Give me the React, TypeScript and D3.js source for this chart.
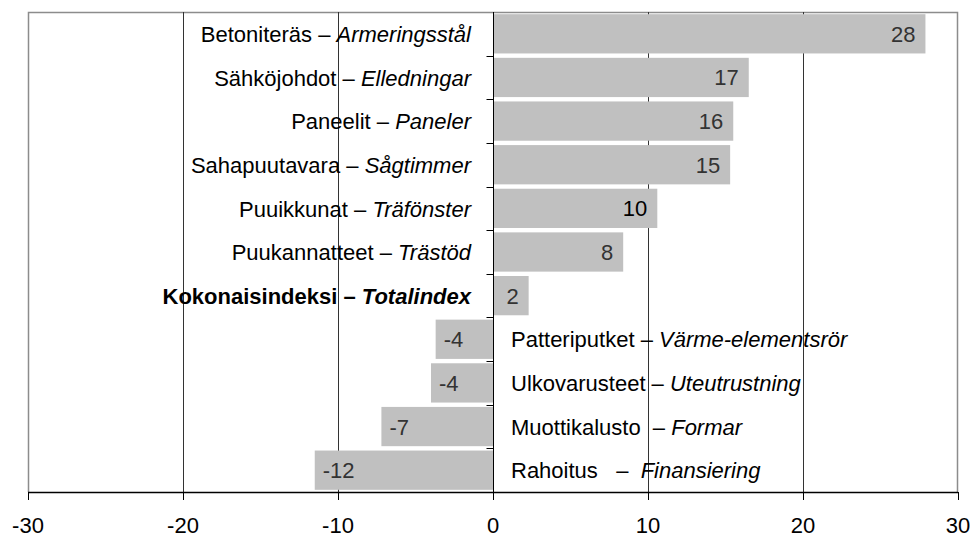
import React, { useEffect, useRef } from 'react'
import * as d3 from 'd3'

// Finnish name / Swedish name, top to bottom
const finnish = [
  'Betoniteräs',
  'Sähköjohdot',
  'Paneelit',
  'Sahapuutavara',
  'Puuikkunat',
  'Puukannatteet',
  'Kokonaisindeksi',
  'Patteriputket',
  'Ulkovarusteet',
  'Muottikalusto ',
  'Rahoitus  ',
]
const swedish = [
  'Armeringsstål',
  'Elledningar',
  'Paneler',
  'Sågtimmer',
  'Träfönster',
  'Trästöd',
  'Totalindex',
  'Värme-elementsrör',
  'Uteutrustning',
  'Formar',
  ' Finansiering',
]
const values = [27.9, 16.5, 15.5, 15.3, 10.6, 8.4, 2.3, -3.7, -4.0, -7.2, -11.5]
const valueLabels = ['28', '17', '16', '15', '10', '8', '2', '-4', '-4', '-7', '-12']
const xTicks = [-30, -20, -10, 0, 10, 20, 30]
const totalIndex = 6

const W = 973
const H = 538
const FONT = 'Arial, "Liberation Sans", sans-serif'

const App = () => {
  const svgRef = useRef<SVGSVGElement>(null)

  useEffect(() => {
    const svg = d3.select(svgRef.current)
    svg.selectAll('*').remove()

    const x = d3.scaleLinear([-30, 30], [28, 958])
    const y = d3.scaleBand<number>(d3.range(values.length), [12, 492])
      .paddingInner(0.1)
      .paddingOuter(0.05)

    svg.append('rect')
      .attr('width', W).attr('height', H).attr('fill', '#fff')

    // plot border
    svg.append('path')
      .attr('d', `M28.5,492V12.5H957.5V492`)
      .attr('fill', 'none')
      .attr('stroke', '#8c8c8c')
      .attr('stroke-width', 1.5)

    // gridlines
    svg.append('g')
      .selectAll('line')
      .data(xTicks.filter(t => t !== 0 && Math.abs(t) !== 30))
      .join('line')
      .attr('x1', d => Math.round(x(d)) + 0.5)
      .attr('x2', d => Math.round(x(d)) + 0.5)
      .attr('y1', 12).attr('y2', 492)
      .attr('stroke', '#333')

    // bars
    svg.append('g')
      .selectAll('rect')
      .data(values)
      .join('rect')
      .attr('x', d => x(Math.min(0, d)))
      .attr('width', d => Math.abs(x(d) - x(0)))
      .attr('y', (_, i) => y(i)!)
      .attr('height', y.bandwidth())
      .attr('fill', '#c0c0c0')

    // zero line + category ticks
    const x0 = Math.round(x(0)) + 0.5
    svg.append('line')
      .attr('x1', x0).attr('x2', x0).attr('y1', 12).attr('y2', 492)
      .attr('stroke', '#000')
    const step = y.step()
    svg.append('g')
      .selectAll('line')
      .data(d3.range(1, values.length))
      .join('line')
      .attr('x1', x0 - 7).attr('x2', x0)
      .attr('y1', i => Math.round(12 + i * (480 / values.length)) + 0.5)
      .attr('y2', i => Math.round(12 + i * (480 / values.length)) + 0.5)
      .attr('stroke', '#000')

    // x axis
    const ax = svg.append('g').attr('transform', 'translate(0,492)')
    ax.append('line')
      .attr('x1', 28).attr('x2', 958).attr('y1', 0.5).attr('y2', 0.5)
      .attr('stroke', '#000').attr('stroke-width', 1.5)
    ax.selectAll('line.tick')
      .data(xTicks)
      .join('line')
      .attr('class', 'tick')
      .attr('x1', d => Math.round(x(d)) + 0.5)
      .attr('x2', d => Math.round(x(d)) + 0.5)
      .attr('y1', 0).attr('y2', 8)
      .attr('stroke', '#000')
    ax.selectAll('text')
      .data(xTicks)
      .join('text')
      .attr('x', d => x(d))
      .attr('y', 41)
      .attr('text-anchor', 'middle')
      .attr('font-family', FONT)
      .attr('font-size', 22)
      .attr('fill', '#000')
      .text(d => String(d))

    // value labels
    svg.append('g')
      .selectAll('text')
      .data(values)
      .join('text')
      .attr('x', d => d >= 0 ? x(d) - 10 : x(d) + 8)
      .attr('y', (_, i) => y(i)! + y.bandwidth() / 2 + 8)
      .attr('text-anchor', d => d >= 0 ? 'end' : 'start')
      .attr('font-family', FONT)
      .attr('font-size', 22)
      .attr('fill', (_, i) => i === 4 ? '#000' : '#333')
      .text((_, i) => valueLabels[i])

    // category labels
    const cat = svg.append('g')
      .selectAll('text')
      .data(values)
      .join('text')
      .attr('x', d => d >= 0 ? x(0) - 22 : x(0) + 18)
      .attr('y', (_, i) => y(i)! + step / 2 + 6)
      .attr('text-anchor', d => d >= 0 ? 'end' : 'start')
      .attr('font-family', FONT)
      .attr('font-size', 22)
      .attr('font-weight', (_, i) => i === totalIndex ? 'bold' : 'normal')
      .attr('fill', '#000')
      .style('white-space', 'pre')
    cat.append('tspan').text((_, i) => finnish[i] + ' – ')
    cat.append('tspan').attr('font-style', 'italic').text((_, i) => swedish[i])
  }, [])

  return (
    <svg
      ref={svgRef}
      width={W}
      height={H}
      style={{ position: 'absolute', left: 0, top: 0, display: 'block' }}
    />
  )
}

export default App
